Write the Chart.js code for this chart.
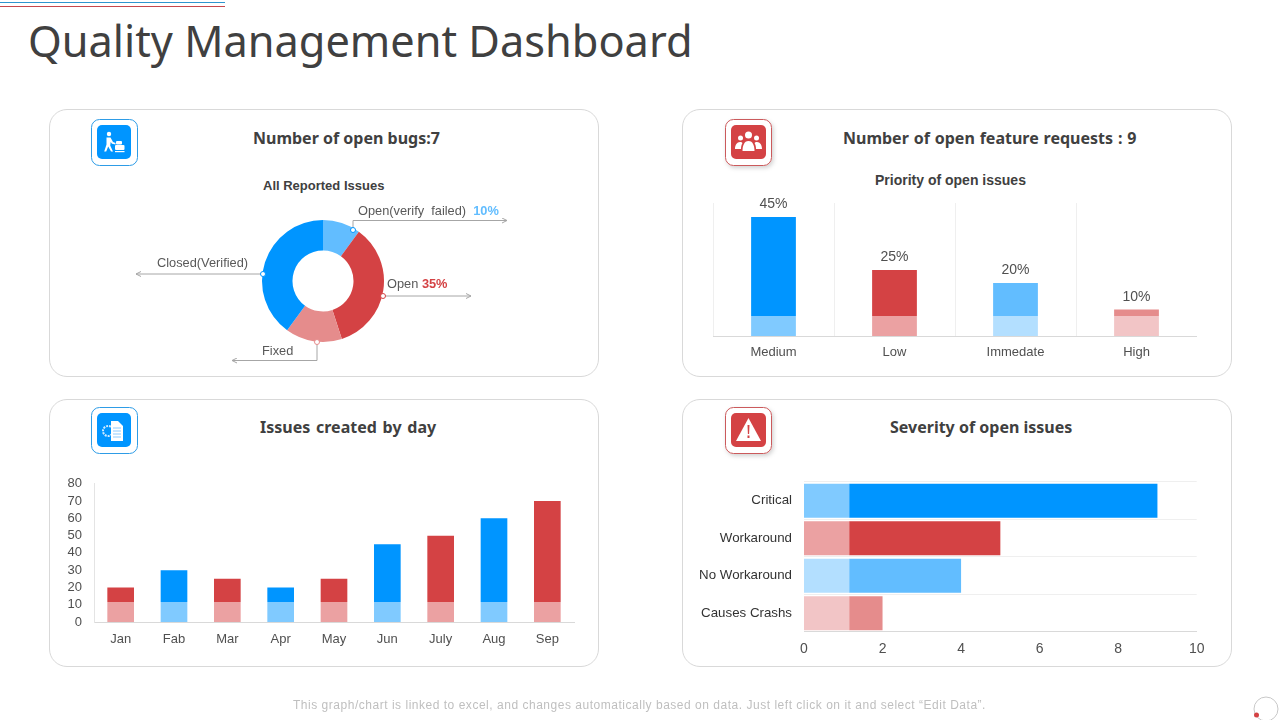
<!DOCTYPE html>
<html>
<head>
<meta charset="utf-8">
<title>Quality Management Dashboard</title>
<script src="https://cdn.jsdelivr.net/npm/chart.js@4"></script>
<style>
  html, body { margin:0; padding:0; background:#fff; }
  body { width:1280px; height:720px; position:relative; overflow:hidden; font-family:"Liberation Sans",Arial,sans-serif; color:#404040; }
  .abs { position:absolute; white-space:nowrap; }
  .card { position:absolute; width:548px; height:266px; border:1px solid #d9d9d9; border-radius:18px; box-sizing:content-box; }
  .h1 { left:28px; top:11px; font:43.3px/60px "Noto Sans",sans-serif; color:#404040; }
  .ttl { font:bold 16px/20px "Noto Sans",sans-serif; color:#404040; }
  .sub { font:bold 13px/16px "Liberation Sans",sans-serif; color:#404040; }
  .cl { font:12.8px/14px "Liberation Sans",sans-serif; color:#595959; }
  canvas { position:absolute; display:block; }
  svg { position:absolute; left:0; top:0; }
</style>
</head>
<body>
<div class="abs" style="left:0;top:2px;width:225px;height:1px;background:#2e96cf"></div>
<div class="abs" style="left:0;top:6px;width:225px;height:1px;background:#c6484c"></div>
<div class="abs h1">Quality Management Dashboard</div>

<div class="card" style="left:49px;top:109px"></div>
<div class="card" style="left:682px;top:109px"></div>
<div class="card" style="left:49px;top:399px"></div>
<div class="card" style="left:682px;top:399px"></div>

<div class="abs ttl" style="left:253px;top:128px">Number of open bugs:7</div>
<div class="abs ttl" style="left:843px;top:128px;word-spacing:.7px">Number of open feature requests : 9</div>
<div class="abs ttl" style="left:260px;top:417px;word-spacing:1.6px">Issues created by day</div>
<div class="abs ttl" style="left:890px;top:417px">Severity of open issues</div>
<div class="abs sub" style="left:263px;top:178px">All Reported Issues</div>
<div class="abs ttl" style="left:875px;top:170px;font:bold 14px/20px 'Liberation Sans',sans-serif">Priority of open issues</div>

<canvas id="donutChart" width="132" height="132" style="left:257px;top:215px"></canvas>
<canvas id="priorityChart" width="484" height="176" style="left:713px;top:190px"></canvas>
<canvas id="issuesChart" width="530" height="182" style="left:49px;top:472px"></canvas>
<canvas id="severityChart" width="530" height="200" style="left:680px;top:462px"></canvas>

<svg width="1280" height="720">
  <defs>
    <marker id="arr" markerWidth="6" markerHeight="6" refX="5" refY="3" orient="auto-start-reverse"><path d="M0 .5L5 3L0 5.5" fill="none" stroke="#a6a6a6"/></marker>
    <filter id="sh" x="-20%" y="-20%" width="150%" height="150%"><feDropShadow dx="1.5" dy="2" stdDeviation="2" flood-color="#000" flood-opacity=".18"/></filter>
  </defs>
  <!-- leader lines -->
  <g fill="none" stroke="#a6a6a6" stroke-width="1">
    <path d="M353 230V220.5H507" marker-end="url(#arr)"/>
    <path d="M383 296H471" marker-end="url(#arr)"/>
    <path d="M317 342V360.5H232" marker-end="url(#arr)"/>
    <path d="M263 274H136" marker-end="url(#arr)"/>
  </g>
  <g fill="#fff" stroke-width="1">
    <circle cx="353" cy="230" r="2.5" stroke="#0095ff"/>
    <circle cx="383" cy="296" r="2.5" stroke="#d44244"/>
    <circle cx="317" cy="342" r="2.5" stroke="#e58c8c"/>
    <circle cx="263" cy="274" r="2.5" stroke="#0095ff"/>
  </g>

  <!-- icon: bugs -->
  <rect x="91.5" y="119.5" width="46" height="46" rx="8" fill="#fff" stroke="#2e9ce6"/>
  <rect x="97" y="125" width="34" height="34" rx="5" fill="#0095ff"/>
  <g fill="#fff">
    <circle cx="109" cy="134" r="2.2"/>
    <path d="M106.500 137.500h4l2.500 4.500 2.500 1v1.500l-3.500-.8-1.300-1.700-.5 3.500 2.800 6h-2l-2.800-5-2 5h-2l2.300-7z"/>
    <rect x="116" y="141" width="6" height="3.500" rx="1"/>
    <rect x="115" y="145" width="9.500" height="5" rx="1"/>
    <rect x="115" y="151" width="9.500" height="1.200"/>
  </g>

  <!-- icon: requests -->
  <rect x="725.5" y="119.5" width="46" height="46" rx="8" fill="#fff" stroke="#cb5a5c" filter="url(#sh)"/>
  <rect x="731" y="125" width="35" height="34" rx="5" fill="#d44244"/>
  <g fill="#fff">
    <circle cx="748.5" cy="135" r="3.500"/>
    <circle cx="740.5" cy="138" r="2.500"/>
    <circle cx="756.5" cy="138" r="2.500"/>
    <path d="M742.500 151c0-5 1.500-10 6-10s6 5 6 10z"/>
    <path d="M735 149c0-4 2-7 5-7 1.500 0 2 .5 2.500 1-1 1.500-1.500 3.500-1.500 6z"/>
    <path d="M762 149c0-4-2-7-5-7-1.500 0-2 .5-2.500 1 1 1.500 1.500 3.500 1.500 6z"/>
  </g>

  <!-- icon: issues -->
  <rect x="91.5" y="407.500" width="46" height="46" rx="8" fill="#fff" stroke="#2e9ce6"/>
  <rect x="97" y="413" width="34" height="34" rx="5" fill="#0095ff"/>
  <circle cx="108" cy="431" r="5" fill="none" stroke="#cfeaff" stroke-width="2" stroke-dasharray="2 1"/>
  <path d="M111 421h7l5 5v15h-12z" fill="#fff"/>
  <g stroke="#8ccbff" stroke-width="1"><path d="M113 428h8M113 431h8M113 434h8M113 437h8"/></g>

  <!-- icon: severity -->
  <rect x="725.5" y="407.500" width="46" height="46" rx="8" fill="#fff" stroke="#cb5a5c" filter="url(#sh)"/>
  <rect x="731" y="413" width="35" height="34" rx="5" fill="#d44244"/>
  <path d="M748.500 418L761 441H736z" fill="#fff"/>
  <path d="M747.500 425h2l-.4 9h-1.200zM747.500 435.500h2v2.500h-2z" fill="#d44244"/>

  <!-- loader -->
  <circle cx="1266" cy="709" r="12" fill="none" stroke="#c8c8c8"/>
  <circle cx="1256.500" cy="715" r="2.500" fill="#d44244"/>
</svg>

<div class="abs cl" style="left:358px;top:204px">Open(verify&nbsp; failed)&nbsp; <b style="color:#62bdff">10%</b></div>
<div class="abs cl" style="left:387px;top:277px">Open <b style="color:#d44244">35%</b></div>
<div class="abs cl" style="left:262px;top:344px">Fixed</div>
<div class="abs cl" style="left:157px;top:256px">Closed(Verified)</div>

<div class="abs" style="left:293px;top:698px;font:12px/14px 'Liberation Sans',sans-serif;letter-spacing:.52px;color:#bfbfbf">This graph/chart is linked to excel, and changes automatically based on data. Just left click on it and select “Edit Data”.</div>

<script>
// ---- data ----
const donutLabels  = ['Open(verify failed)', 'Open', 'Fixed', 'Closed(Verified)'];
const donutValues  = [10, 35, 15, 40];

const priorityCats = ['Medium', 'Low', 'Immedate', 'High'];
const priorityBase = [7.6, 7.6, 7.6, 7.6];
const priorityTop  = [37.4, 17.4, 12.4, 2.4];
const priorityPct  = ['45%', '25%', '20%', '10%'];

const issueMonths  = ['Jan', 'Fab', 'Mar', 'Apr', 'May', 'Jun', 'July', 'Aug', 'Sep'];
const issueBase    = [11.6, 11.6, 11.6, 11.6, 11.6, 11.6, 11.6, 11.6, 11.6];
const issueTop     = [8.4, 18.4, 13.4, 8.4, 13.4, 33.4, 38.4, 48.4, 58.4];

const severityCats = ['Critical', 'Workaround', 'No Workaround', 'Causes Crashs'];
const severityBase = [1.15, 1.15, 1.15, 1.15];
const severityTop  = [7.85, 3.85, 2.85, 0.85];

// ---- colours ----
const BLUE = '#0095ff', RED = '#d44244', SKY = '#62bdff', ROSE = '#e58c8c';
const BLUE_L = '#80caff', RED_L = '#eba1a2', SKY_L = '#b3dfff', ROSE_L = '#f2c5c6';
const GRID = '#efefef', AXIS = '#d9d9d9', TXT = '#505050';
const FONT = '"Liberation Sans", Arial, sans-serif';

Chart.defaults.animation = false;
Chart.defaults.responsive = false;
Chart.defaults.font.family = FONT;
Chart.defaults.color = TXT;
Chart.defaults.plugins.legend.display = false;
Chart.defaults.plugins.tooltip.enabled = false;

// fixed scale thickness so that the plot area lands where it should
const fitH = h => s => { s.height = h; };
const fitW = w => s => { s.width = w; };

new Chart(document.getElementById('donutChart'), {
  type: 'doughnut',
  data: { labels: donutLabels, datasets: [{ data: donutValues, backgroundColor: [SKY, RED, ROSE, BLUE], borderWidth: 0 }] },
  options: { radius: 61, cutout: '50%' }
});

// % labels over the priority bars
const pctLabels = {
  id: 'pctLabels',
  afterDatasetsDraw(chart) {
    const ctx = chart.ctx, bars = chart.getDatasetMeta(1).data;
    ctx.save();
    ctx.font = '14px ' + FONT;
    ctx.fillStyle = TXT;
    ctx.textAlign = 'center';
    ctx.textBaseline = 'alphabetic';
    bars.forEach((b, i) => ctx.fillText(priorityPct[i], b.x, b.y - 9));
    ctx.restore();
  }
};

new Chart(document.getElementById('priorityChart'), {
  type: 'bar',
  data: {
    labels: priorityCats,
    datasets: [
      { data: priorityBase, backgroundColor: [BLUE_L, RED_L, SKY_L, ROSE_L], barPercentage: 0.37, categoryPercentage: 1 },
      { data: priorityTop,  backgroundColor: [BLUE, RED, SKY, ROSE], barPercentage: 0.37, categoryPercentage: 1 }
    ]
  },
  options: {
    layout: { padding: { top: 13 } },
    scales: {
      x: { stacked: true, afterFit: fitH(30), grid: { color: GRID, drawTicks: false }, border: { color: AXIS }, ticks: { padding: 9, font: { size: 13 } } },
      y: { stacked: true, display: false, min: 0, max: 50.3 }
    }
  },
  plugins: [pctLabels]
});

new Chart(document.getElementById('issuesChart'), {
  type: 'bar',
  data: {
    labels: issueMonths,
    datasets: [
      { data: issueBase, backgroundColor: [RED_L, BLUE_L, RED_L, BLUE_L, RED_L, BLUE_L, RED_L, BLUE_L, RED_L], barPercentage: 0.5, categoryPercentage: 1 },
      { data: issueTop,  backgroundColor: [RED, BLUE, RED, BLUE, RED, BLUE, RED, BLUE, RED], barPercentage: 0.5, categoryPercentage: 1 }
    ]
  },
  options: {
    layout: { padding: { top: 0, right: 5 } },
    scales: {
      x: { stacked: true, afterFit: fitH(32), grid: { display: false }, border: { color: AXIS }, ticks: { padding: 2, font: { size: 13 } } },
      y: { stacked: true, min: 0, max: 80, afterFit: fitW(45), grid: { display: false }, border: { color: '#e4e4e4' }, ticks: { stepSize: 10, autoSkip: false, padding: 4, font: { size: 13 } } }
    }
  }
});

new Chart(document.getElementById('severityChart'), {
  type: 'bar',
  data: {
    labels: severityCats,
    datasets: [
      { data: severityBase, backgroundColor: [BLUE_L, RED_L, SKY_L, ROSE_L], barPercentage: 0.91, categoryPercentage: 1 },
      { data: severityTop,  backgroundColor: [BLUE, RED, SKY, ROSE], barPercentage: 0.91, categoryPercentage: 1 }
    ]
  },
  options: {
    indexAxis: 'y',
    layout: { padding: { top: 2, right: 13.3 } },
    scales: {
      x: { stacked: true, min: 0, max: 10, afterFit: fitH(30), grid: { display: false }, border: { color: AXIS }, ticks: { stepSize: 2, padding: 1, font: { size: 14 } } },
      y: { stacked: true, afterFit: fitW(124), grid: { color: GRID, drawTicks: false }, border: { display: false }, ticks: { padding: 12, color: '#333', font: { size: 13.3 } } }
    }
  }
});
</script>
</body>
</html>
